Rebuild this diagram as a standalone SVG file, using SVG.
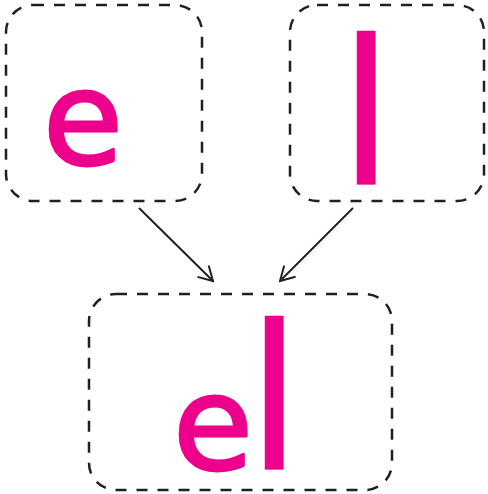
<svg xmlns="http://www.w3.org/2000/svg" width="488" height="494" viewBox="0 0 488 494">
<style>
.box{fill:none;stroke:#231f20;stroke-width:2.5;stroke-dasharray:11 10}
.ltr{fill:#ec008c;stroke:#ec008c;stroke-width:3;stroke-linejoin:round;font-family:"DejaVu Sans",sans-serif;text-anchor:middle}
.thin{stroke-width:0.5}
.conn line{stroke:#231f20;stroke-width:2;marker-end:url(#arr)}
</style>
<defs>
<marker id="arr" viewBox="0 0 20 20" refX="18" refY="10" markerWidth="20" markerHeight="20" markerUnits="userSpaceOnUse" orient="auto">
<path d="M4,2 L18,10 L4,18" fill="none" stroke="#231f20" stroke-width="2"/>
</marker>
</defs>
<rect width="488" height="494" fill="#fff"/>
<g id="node-e">
<rect class="box" x="6" y="5" width="196" height="196" rx="27"/>
<text class="ltr" x="83" y="164" font-size="130">e</text>
</g>
<g id="node-l">
<rect class="box" x="290" y="5" width="194" height="196" rx="27"/>
<text class="ltr thin" x="366" y="184" font-size="202">l</text>
</g>
<g id="node-el">
<rect class="box" x="89" y="294" width="303" height="196" rx="27"/>
<text class="ltr" x="213" y="469" font-size="130">e</text>
<text class="ltr thin" x="274" y="469" font-size="202">l</text>
</g>
<g class="conn" id="connectors">
<line x1="139" y1="208" x2="213" y2="281"/>
<line x1="353" y1="208" x2="280" y2="281"/>
</g>
</svg>
